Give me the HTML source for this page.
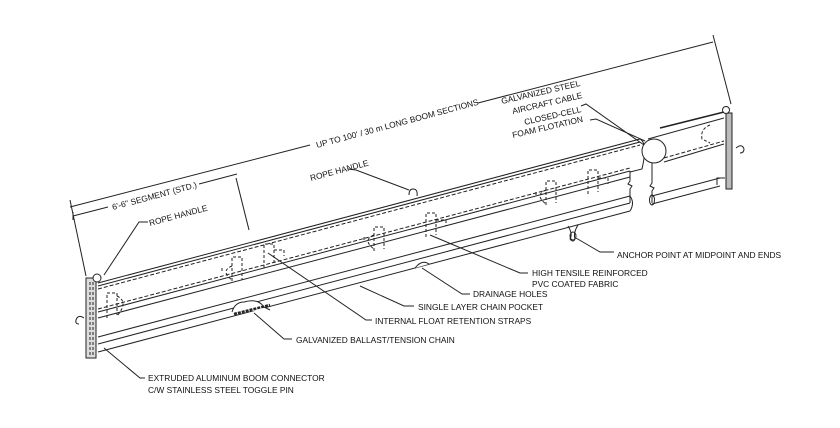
<!DOCTYPE html>
<html><head><meta charset="utf-8"><style>
html,body{margin:0;padding:0;background:#fff;}
svg{display:block;}
text{font-family:"Liberation Sans",sans-serif;font-size:8.4px;fill:#111;}
</style></head><body>
<svg width="840" height="428" viewBox="0 0 840 428" xmlns="http://www.w3.org/2000/svg">
<g stroke="#222" stroke-width="1" fill="none">
<polyline points="70,207 310,145"/>
<polyline points="478,103 713,42"/>
<line x1="70" y1="200" x2="86" y2="276"/>
<line x1="713" y1="35" x2="731" y2="104"/>
<polyline points="73,216 108,207"/>
<polyline points="199,184 237,174"/>
<line x1="236" y1="178" x2="249" y2="230"/>
<line x1="73" y1="212" x2="73" y2="220"/>
<rect x="86" y="278" width="10" height="80" fill="#ddd"/>
<line x1="90" y1="282" x2="90" y2="355" stroke-dasharray="3,2"/>
<line x1="93" y1="282" x2="93" y2="355" stroke-dasharray="3,2"/>
<circle cx="97" cy="278" r="4" fill="#fff"/>
<path d="M84,318 q-6,-4 -8,2 q-1,4 3,4"/>
<line x1="98" y1="283" x2="640" y2="139"/>
<line x1="98" y1="286" x2="640" y2="142"/>
<line x1="98" y1="289" x2="640" y2="145" stroke-dasharray="4,2"/>
<line x1="98" y1="309" x2="630" y2="168" stroke-dasharray="4,2"/>
<line x1="98" y1="312" x2="630" y2="171"/>
<path d="M640,139 q8,4 2,30 l-12,3"/>
<path d="M630,171 v10 l-2,3 l4,2 l-2,3 v14"/>
<line x1="98" y1="318" x2="630" y2="177"/>
<line x1="98" y1="337" x2="630" y2="196"/>
<line x1="98" y1="344" x2="630" y2="203"/>
<line x1="98" y1="352" x2="630" y2="211"/>
<path d="M630,196 q5,7 0,15"/>
<path d="M415,268 q7,-9 14,-4" fill="#fff"/>
<path d="M232,312 q3,-10 12,-10 q14,-4 20,5 l6,3" fill="#fff"/>
<path d="M234,314 l36,-9" stroke-width="2.5" stroke-dasharray="3,1"/>
<path d="M409,195 q0,-6 4,-6 q5,0 4,7"/>
<path d="M568,226 q5,8 2,13 q3,4 5,0 q-2,-6 3,-14" />
<ellipse cx="573" cy="236" rx="3" ry="4"/>
<g stroke-dasharray="3,2">
<path d="M107,318 v-25 h10 v22 M117,296 q12,6 0,20"/>
<path d="M232,281 v-24 h10 v23 M232,266 q-12,5 0,14 M222,268 v5"/>
<path d="M264,268 v-24 h10 v22 M274,250 h10 v6"/>
<path d="M374,251 v-24 h10 v22 M374,235 q-12,5 0,14 M364,237 v5"/>
<path d="M426,237 v-24 h10 v22 M436,220 h10 v6"/>
<path d="M546,205 v-24 h10 v22 M546,190 q-12,5 0,14 M536,192 v5"/>
<path d="M588,194 v-24 h10 v22 M598,178 h10 v6"/>
</g>
<line x1="660" y1="128" x2="724" y2="112" stroke-width="1.6"/>
<line x1="648" y1="139" x2="724" y2="118"/>
<line x1="664" y1="158" x2="724" y2="141" stroke-dasharray="4,2"/>
<line x1="664" y1="162" x2="724" y2="144"/>
<circle cx="654" cy="151" r="12" fill="#fff"/>
<path d="M652,163 v20 l-2,3 l4,2 l-2,3 v12"/>
<line x1="652" y1="196" x2="720" y2="178"/>
<line x1="652" y1="204" x2="720" y2="186"/>
<ellipse cx="652" cy="200" rx="2.5" ry="5"/>
<path d="M710,125 q-10,4 -8,14 l8,4" stroke-dasharray="3,2"/>
<rect x="726" y="113" width="6" height="76" fill="#bbb"/>
<circle cx="726" cy="110" r="3.5" fill="#fff"/>
<path d="M736,148 q6,-5 8,1 q0,4 -4,4"/>
<path d="M717,185 v-7 h8"/>
<polyline points="148,222 139,222 104,275"/>
<polyline points="348,169 356,170 409,190"/>
<polyline points="581,106 586,104 644,145"/>
<polyline points="590,120 596,119 645,141"/>
<polyline points="614,252 600,252 576,238"/>
<polyline points="528,273 520,273 430,235"/>
<polyline points="470,294 462,294 422,268"/>
<polyline points="414,306 404,306 360,286"/>
<polyline points="372,320 366,320 268,253"/>
<polyline points="292,339 284,339 254,313"/>
<polyline points="145,378 140,378 104,348"/>
</g>
<text transform="translate(113,210) rotate(-15)">6'-6" SEGMENT (STD.)</text>
<text transform="translate(317,148) rotate(-15)">UP TO 100' / 30 m LONG BOOM SECTIONS</text>
<text transform="translate(150,226) rotate(-15)">ROPE HANDLE</text>
<text transform="translate(311,181) rotate(-15)">ROPE HANDLE</text>
<text transform="translate(502,104) rotate(-13)">GALVANIZED STEEL</text>
<text transform="translate(513,114) rotate(-13)">AIRCRAFT CABLE</text>
<text transform="translate(525,125) rotate(-13)">CLOSED-CELL</text>
<text transform="translate(513,138) rotate(-13)">FOAM FLOTATION</text>
<text x="617" y="258">ANCHOR POINT AT MIDPOINT AND ENDS</text>
<text x="532" y="276">HIGH TENSILE  REINFORCED</text>
<text x="532" y="287">PVC COATED FABRIC</text>
<text x="473" y="297">DRAINAGE HOLES</text>
<text x="418" y="310">SINGLE LAYER CHAIN POCKET</text>
<text x="375" y="324">INTERNAL FLOAT RETENTION STRAPS</text>
<text x="296" y="343">GALVANIZED BALLAST/TENSION CHAIN</text>
<text x="148" y="381">EXTRUDED ALUMINUM BOOM CONNECTOR</text>
<text x="148" y="393">C/W STAINLESS STEEL TOGGLE PIN</text>
</svg>
</body></html>
